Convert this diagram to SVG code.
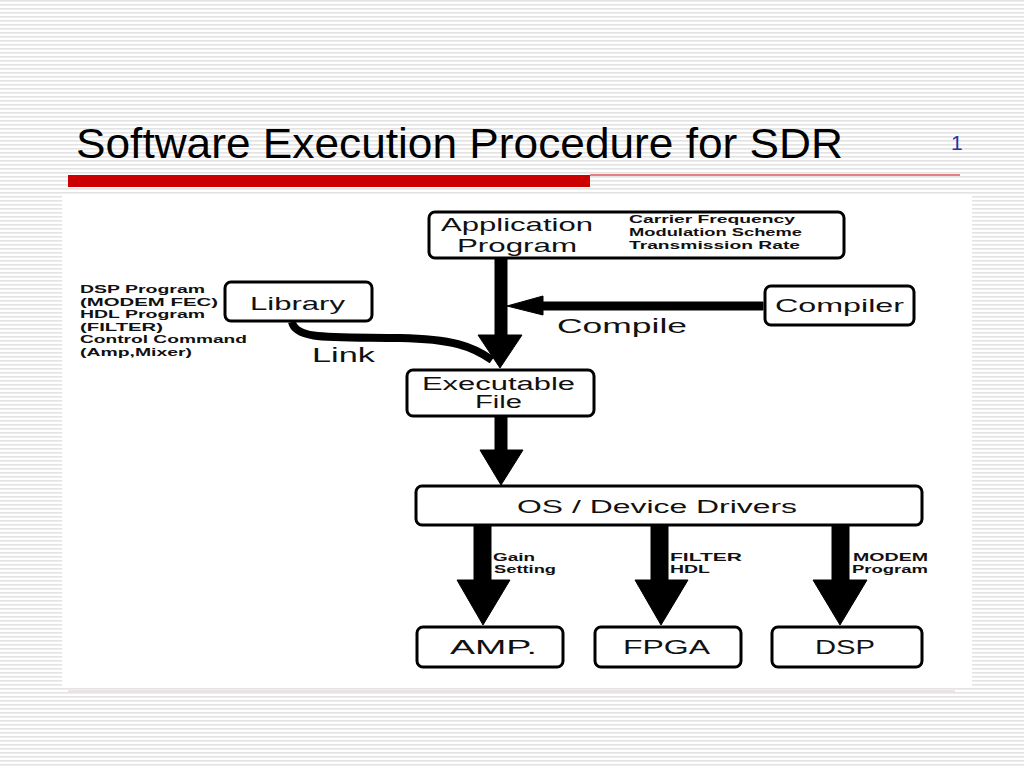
<svg xmlns="http://www.w3.org/2000/svg" width="1024" height="768" viewBox="0 0 1024 768">
<defs>
<pattern id="stripes" width="8" height="4" patternUnits="userSpaceOnUse">
<rect x="0" y="0" width="8" height="1.6" fill="#e3e3e3"/>
</pattern>
<style>
.box{fill:#fff;stroke:#000;stroke-width:3;}
.t{font-family:"Liberation Sans",Arial,sans-serif;fill:#111;}
.big{font-size:19px;}
.sm{font-size:11px;font-weight:bold;}
.arr{fill:#000;stroke:#000;stroke-width:1;stroke-linejoin:round;}
</style>
</defs>
<rect width="1024" height="768" fill="#fff"/>
<rect width="1024" height="768" fill="url(#stripes)"/>
<text x="76" y="158" font-family="'Liberation Sans',Arial,sans-serif" font-size="42" fill="#000" textLength="767" lengthAdjust="spacingAndGlyphs">Software Execution Procedure for SDR</text>
<text x="951" y="150" font-family="'Liberation Sans',Arial,sans-serif" font-size="21" fill="#1f35a8">1</text>
<rect x="68" y="175" width="522" height="12" fill="#cc0000"/>
<line x1="590" y1="175" x2="960" y2="175" stroke="#cc0000" stroke-width="1"/>
<rect x="62" y="195" width="910" height="491" fill="#fff"/>
<line x1="68" y1="691" x2="955" y2="691" stroke="#e2c6c6" stroke-width="1"/>

<g id="connectors">
<path d="M292,322 C296,340 330,337 400,338 C452,339 472,346 492,360" fill="none" stroke="#000" stroke-width="8"/>
<path class="arr" d="M495,258 H507 V335 H522 L500,368 L478,335 H495 Z"/>
<path class="arr" d="M763,302 V310 H543 V315 L507,306 L543,296 V302 Z"/>
<path class="arr" d="M495,417 H507 V450 H523 L501,485 L480,450 H495 Z"/>
<path class="arr" d="M474,525 H491 V580 H510 L483,625 L457,580 H474 Z"/>
<path class="arr" d="M651,525 H668 V580 H688 L661,625 L635,580 H651 Z"/>
<path class="arr" d="M832,525 H849 V580 H867 L840,625 L813,580 H832 Z"/>
<text class="t sm" x="493" y="561" textLength="42" lengthAdjust="spacingAndGlyphs">Gain</text>
<text class="t sm" x="494" y="573" textLength="62" lengthAdjust="spacingAndGlyphs">Setting</text>
<text class="t sm" x="670" y="561" textLength="72" lengthAdjust="spacingAndGlyphs">FILTER</text>
<text class="t sm" x="670" y="573" textLength="40" lengthAdjust="spacingAndGlyphs">HDL</text>
<text class="t sm" x="853" y="561" textLength="75" lengthAdjust="spacingAndGlyphs">MODEM</text>
<text class="t sm" x="852" y="573" textLength="76" lengthAdjust="spacingAndGlyphs">Program</text>
<text class="t" font-size="21" x="557" y="333" textLength="130" lengthAdjust="spacingAndGlyphs">Compile</text>
<text class="t" font-size="21" x="312" y="362" textLength="63" lengthAdjust="spacingAndGlyphs">Link</text>
</g>

<g id="app">
<rect class="box" x="429" y="212" width="415" height="46" rx="6"/>
<text class="t big" x="441" y="231" textLength="152" lengthAdjust="spacingAndGlyphs">Application</text>
<text class="t big" x="457" y="252" textLength="120" lengthAdjust="spacingAndGlyphs">Program</text>
<text class="t sm" x="629" y="223" textLength="166" lengthAdjust="spacingAndGlyphs">Carrier Frequency</text>
<text class="t sm" x="629" y="236" textLength="173" lengthAdjust="spacingAndGlyphs">Modulation Scheme</text>
<text class="t sm" x="629" y="249" textLength="171" lengthAdjust="spacingAndGlyphs">Transmission Rate</text>
</g>

<g id="library-notes">
<text class="t sm" x="80" y="293" textLength="125" lengthAdjust="spacingAndGlyphs">DSP Program</text>
<text class="t sm" x="80" y="306" textLength="138" lengthAdjust="spacingAndGlyphs">(MODEM FEC)</text>
<text class="t sm" x="80" y="318" textLength="125" lengthAdjust="spacingAndGlyphs">HDL Program</text>
<text class="t sm" x="80" y="331" textLength="83" lengthAdjust="spacingAndGlyphs">(FILTER)</text>
<text class="t sm" x="80" y="343" textLength="167" lengthAdjust="spacingAndGlyphs">Control Command</text>
<text class="t sm" x="80" y="356" textLength="112" lengthAdjust="spacingAndGlyphs">(Amp,Mixer)</text>
</g>

<g id="library">
<rect class="box" x="225" y="282" width="147" height="39" rx="6"/>
<text class="t big" x="250" y="310" textLength="95" lengthAdjust="spacingAndGlyphs">Library</text>
</g>

<g id="compiler">
<rect class="box" x="765" y="286" width="149" height="39" rx="6"/>
<text class="t big" x="775" y="312" textLength="129" lengthAdjust="spacingAndGlyphs">Compiler</text>
</g>

<g id="executable">
<rect class="box" x="407" y="370" width="187" height="46" rx="6"/>
<text class="t" font-size="18" x="422" y="390" textLength="153" lengthAdjust="spacingAndGlyphs">Executable</text>
<text class="t" font-size="18" x="475" y="408" textLength="47" lengthAdjust="spacingAndGlyphs">File</text>
</g>

<g id="os">
<rect class="box" x="416" y="486" width="506" height="39" rx="6"/>
<text class="t" font-size="18" x="517" y="513" textLength="280" lengthAdjust="spacingAndGlyphs">OS / Device Drivers</text>
</g>

<g id="amp">
<rect class="box" x="417" y="627" width="146" height="40" rx="6"/>
<text class="t" font-size="20" x="450" y="654" textLength="87" lengthAdjust="spacingAndGlyphs">AMP.</text>
</g>
<g id="fpga">
<rect class="box" x="595" y="627" width="146" height="40" rx="6"/>
<text class="t" font-size="20" x="623" y="654" textLength="87" lengthAdjust="spacingAndGlyphs">FPGA</text>
</g>
<g id="dsp">
<rect class="box" x="772" y="627" width="150" height="40" rx="6"/>
<text class="t" font-size="20" x="815" y="654" textLength="60" lengthAdjust="spacingAndGlyphs">DSP</text>
</g>
</svg>
